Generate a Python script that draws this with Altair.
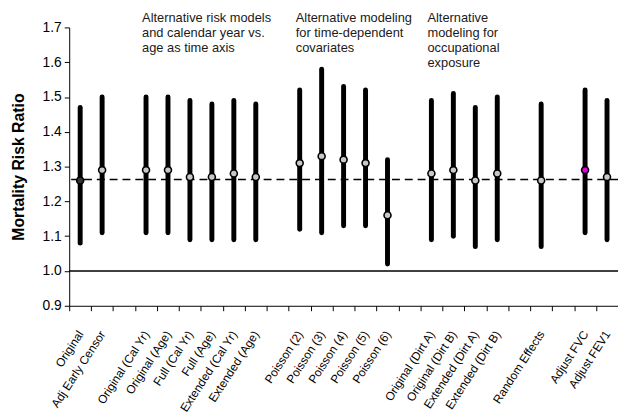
import altair as alt
import pandas as pd

# x-axis categories (blank entries are gaps between groups)
categories = [
    "Original", "Adj Early Censor", " ",
    "Original (Cal Yr)", "Original (Age)", "Full (Cal Yr)", "Full (Age)",
    "Extended (Cal Yr)", "Extended (Age)", "  ",
    "Poisson (2)", "Poisson (3)", "Poisson (4)", "Poisson (5)", "Poisson (6)", "   ",
    "Original (Dirt A)", "Original (Dirt B)", "Extended (Dirt A)", "Extended (Dirt B)", "    ",
    "Random Effects", "     ",
    "Adjust FVC", "Adjust FEV1",
]

models = [
    "Original", "Adj Early Censor",
    "Original (Cal Yr)", "Original (Age)", "Full (Cal Yr)", "Full (Age)",
    "Extended (Cal Yr)", "Extended (Age)",
    "Poisson (2)", "Poisson (3)", "Poisson (4)", "Poisson (5)", "Poisson (6)",
    "Original (Dirt A)", "Original (Dirt B)", "Extended (Dirt A)", "Extended (Dirt B)",
    "Random Effects",
    "Adjust FVC", "Adjust FEV1",
]
estimate = [1.26, 1.29, 1.29, 1.29, 1.27, 1.27, 1.28, 1.27,
            1.31, 1.33, 1.32, 1.31, 1.16,
            1.28, 1.29, 1.26, 1.28, 1.26, 1.29, 1.27]
lower = [1.08, 1.11, 1.11, 1.11, 1.09, 1.09, 1.09, 1.09,
         1.12, 1.11, 1.13, 1.13, 1.02,
         1.09, 1.10, 1.07, 1.09, 1.07, 1.11, 1.09]
upper = [1.47, 1.50, 1.50, 1.50, 1.49, 1.48, 1.49, 1.48,
         1.52, 1.58, 1.53, 1.52, 1.32,
         1.49, 1.51, 1.47, 1.50, 1.48, 1.52, 1.49]
marker_group = ["base"] + ["other"] * 17 + ["fvc", "other"]

baseline_rr = [1.263]
null_rr = [1.0]
y_ticks = [0.9, 1.0, 1.1, 1.2, 1.3, 1.4, 1.5, 1.6, 1.7]

annotation_text = [
    "Alternative risk models\nand calendar year vs.\nage as time axis",
    "Alternative modeling\nfor time-dependent\ncovariates",
    "Alternative\nmodeling for\noccupational\nexposure",
]
annotation_anchor = ["Original (Cal Yr)", "Poisson (2)", "Original (Dirt A)"]
annotation_y = [1.7, 1.7, 1.7]

FONT = "Liberation Sans"

df = pd.DataFrame({"model": models, "est": estimate, "lo": lower, "hi": upper, "grp": marker_group})
ann = pd.DataFrame({"model": annotation_anchor, "txt": annotation_text, "y": annotation_y})

x_scale = alt.Scale(domain=categories, paddingInner=0, paddingOuter=0)
x_axis = alt.Axis(labelAngle=-57, labelFontSize=12, labelFont=FONT, labelColor="black",
                  tickBand="extent", tickSize=5, tickColor="black", domainColor="black",
                  labelPadding=21, title=None, labelOverlap=False, labelLimit=200)
y_scale = alt.Scale(domain=[0.9, 1.7], nice=False, zero=False)
y_axis = alt.Axis(values=y_ticks, format=".1f", grid=False, labelFontSize=14, labelFont=FONT,
                  labelColor="black", tickColor="black", domainColor="black", tickSize=5,
                  labelPadding=3, titleFont=FONT, titleFontSize=16, titleFontWeight="bold",
                  titleColor="black", titlePadding=16)
YT = "Mortality Risk Ratio"

def X():
    return alt.X("model:N", sort=categories, scale=x_scale, axis=x_axis, title=None)

null_line = alt.Chart(pd.DataFrame({"v": null_rr})).mark_rule(color="black", strokeWidth=1.5).encode(
    y=alt.Y("v:Q", scale=y_scale, axis=y_axis, title=YT))
base_line = alt.Chart(pd.DataFrame({"v": baseline_rr})).mark_rule(
    color="black", strokeWidth=1.5, strokeDash=[8, 5]).encode(
    y=alt.Y("v:Q", scale=y_scale, axis=y_axis, title=YT))

bars = alt.Chart(df).mark_rule(color="black", strokeWidth=5, strokeCap="round").encode(
    x=X(), y=alt.Y("lo:Q", scale=y_scale, axis=y_axis, title=YT), y2="hi:Q")

points = alt.Chart(df).mark_point(filled=True, shape="circle", size=50, stroke="black",
                                  strokeWidth=1.6, opacity=1).encode(
    x=X(), y=alt.Y("est:Q", scale=y_scale, axis=y_axis, title=YT),
    fill=alt.Fill("grp:N", scale=alt.Scale(domain=["base", "other", "fvc"],
                                           range=["#333333", "#c8c8c8", "#e000e0"]), legend=None))

texts = alt.Chart(ann).mark_text(align="left", baseline="top", dx=-4, dy=-15, fontSize=13,
                                 font=FONT, color="#1a1a1a", lineBreak="\n", lineHeight=15).encode(
    x=X(), y=alt.Y("y:Q", scale=y_scale, axis=y_axis, title=YT), text="txt:N")

chart = alt.layer(null_line, base_line, bars, points, texts).properties(
    width=556, height=282,
    padding={"left": 62, "top": 17, "right": 0, "bottom": 110},
    autosize=alt.AutoSizeParams(type="none"),
    background="white",
).configure_view(stroke=None)

chart.save("out.html", embed_options={"renderer": "svg", "actions": False})
